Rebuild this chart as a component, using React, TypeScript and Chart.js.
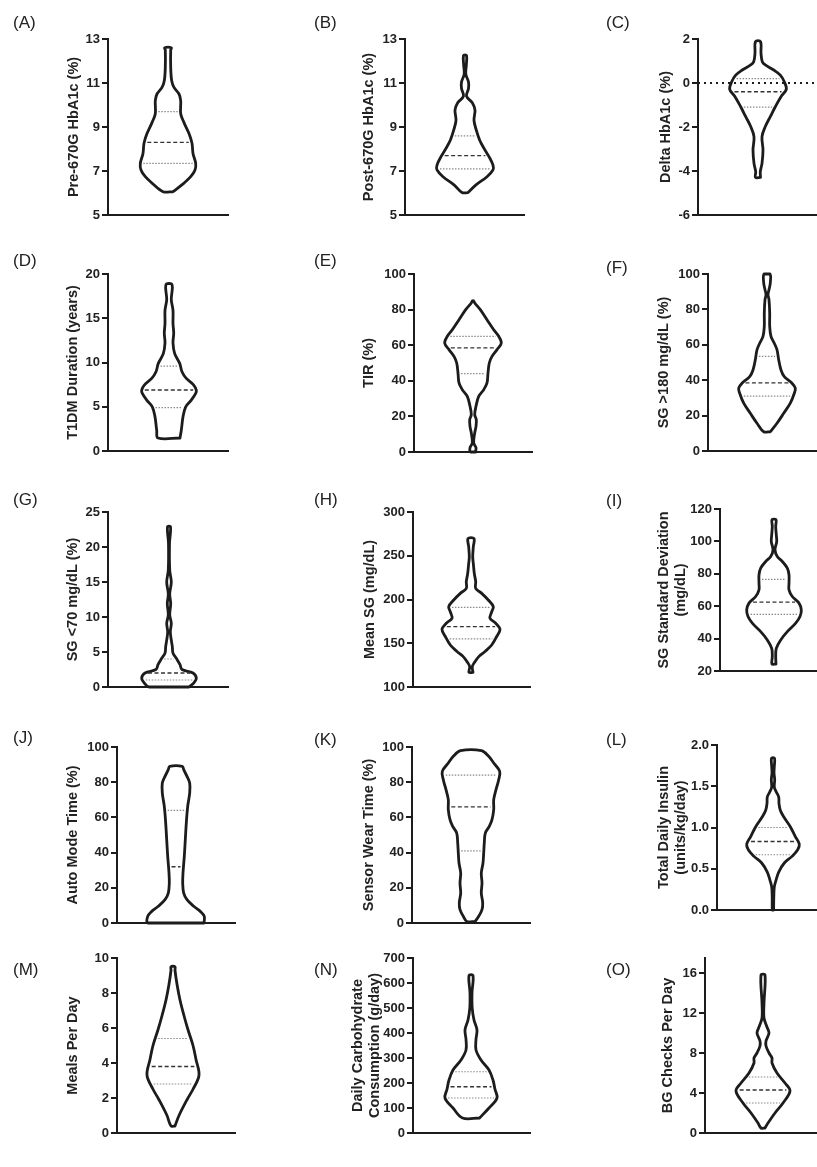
import React, { useEffect, useRef } from 'react';
import { Chart, registerables } from 'chart.js';

Chart.register(...registerables);

const FONT = '"Liberation Sans", Arial, Helvetica, sans-serif';
const INK = '#1c1c1c';

// ---------------- Data (violin outline: value levels and half-widths) ----------------
const A_LEVELS = [6.06, 6.45, 6.74, 7.05, 7.35, 7.8, 8.26, 8.7, 9.2, 9.6, 10.2, 10.5, 10.8, 11.1, 11.7, 12.5, 12.6];
const A_WIDTHS = [5, 16, 22.7, 27, 27.7, 25, 24, 21, 16, 12.7, 12.7, 11, 6, 3.7, 2.7, 2.7, 3.3];
const A_QUART = [7.35, 8.3, 9.7];
const A_TICKS = [5, 7, 9, 11, 13];

const B_LEVELS = [6.02, 6.36, 6.74, 7.05, 7.27, 7.65, 8.03, 8.4, 8.86, 9.3, 9.77, 10.1, 10.4, 10.75, 11.05, 11.4, 11.8, 12.25];
const B_WIDTHS = [3, 10.7, 22, 28, 28, 24, 19, 14.7, 11.3, 9, 10, 7.3, 1.5, 3.5, 3.5, 0.8, 1.3, 1.5];
const B_QUART = [7.1, 7.7, 8.6];
const B_TICKS = [5, 7, 9, 11, 13];

const C_LEVELS = [-4.29, -4.03, -3.65, -3.05, -2.44, -1.98, -1.53, -1.08, -0.62, -0.29, 0.06, 0.36, 0.59, 0.82, 0.97, 1.35, 1.88];
const C_WIDTHS = [2.5, 2.3, 4, 5, 4, 7.3, 12.3, 17.3, 23, 28.3, 26.3, 22.3, 15.7, 7.3, 4.3, 3, 2.5];
const C_QUART = [-1.1, -0.4, 0.2];
const C_TICKS = [-6, -4, -2, 0, 2];

const D_LEVELS = [1.47, 2.34, 3.86, 4.99, 5.75, 6.5, 6.88, 7.45, 8.2, 8.96, 9.9, 11.0, 12.2, 13.3, 14.4, 15.9, 17.1, 18.8];
const D_WIDTHS = [11, 12.3, 14, 16.7, 22.3, 26.7, 27.3, 24.7, 17.3, 13, 10.7, 5.7, 4, 4.7, 4, 4, 2.3, 3];
const D_QUART = [4.9, 6.9, 9.6];
const D_TICKS = [0, 5, 10, 15, 20];

const E_LEVELS = [0, 2.4, 5.1, 10.7, 14.4, 18.2, 21, 25.7, 31.3, 35, 38.8, 44.4, 50, 53.7, 57.5, 61.2, 65, 68.7, 74.3, 80, 83.7, 85];
const E_WIDTHS = [2.5, 3, 0.7, 1.7, 3, 3.3, 1.7, 3, 5.7, 10.7, 14, 15, 16.3, 19, 24, 28.3, 25.7, 20.7, 14, 7.3, 1.7, 0.5];
const E_QUART = [44, 58.5, 65];
const E_TICKS = [0, 20, 40, 60, 80, 100];

const F_LEVELS = [10.9, 15.7, 21.3, 27, 32.6, 35.5, 38.3, 42, 45.8, 51.5, 57.2, 60.9, 64.7, 70.4, 78, 85.5, 88.3, 91.1, 94.9, 100];
const F_WIDTHS = [3.3, 10, 16.7, 23.3, 27.3, 28.3, 25, 17.3, 14, 11.7, 10, 7.3, 4, 2.7, 2.7, 2, 1, 2, 3.3, 3];
const F_QUART = [31, 38.5, 53.5];
const F_TICKS = [0, 20, 40, 60, 80, 100];

const G_LEVELS = [0, 0.57, 1.28, 2, 2.5, 3.2, 4.1, 4.84, 5.8, 6.7, 7.9, 9.1, 10.3, 11.9, 13.3, 15, 16.7, 20.5, 22.9];
const G_WIDTHS = [20, 24.7, 27.3, 24, 13, 11, 7.3, 4, 3.3, 2.3, 1.3, 2.3, 0.7, 1.7, 0.7, 2.3, 0.7, 0.5, 1.5];
const G_QUART = [1.0, 2.0, 4.0];
const G_TICKS = [0, 5, 10, 15, 20, 25];

const H_LEVELS = [116.7, 123.5, 129, 135, 140.6, 148, 157.7, 166, 172.9, 178.6, 186, 191.8, 199.4, 207, 212.7, 220.3, 229.8, 241.2, 248.8, 260.2, 269.6];
const H_WIDTHS = [2, 1.3, 4, 8, 14, 20.7, 25.7, 29, 24.7, 19, 20.7, 22.3, 17.3, 10.7, 4.7, 4.7, 3.3, 2.3, 1.7, 2.3, 3];
const H_QUART = [155, 169, 191];
const H_TICKS = [100, 150, 200, 250, 300];

const I_LEVELS = [24.3, 29, 34, 39.2, 44.3, 49.5, 53.6, 57.7, 61.9, 66, 70.1, 74.2, 79.4, 83.5, 87.6, 90.7, 94.8, 99.9, 104, 109.3, 113.4];
const I_WIDTHS = [2, 1.7, 2.3, 6.7, 13.3, 21.7, 26, 27.3, 25, 18.3, 15, 15, 15, 13.3, 8.3, 3.3, 1, 2.7, 2.3, 1.7, 2];
const I_QUART = [55, 62.5, 76.5];
const I_TICKS = [20, 40, 60, 80, 100, 120];

const J_LEVELS = [0, 3.8, 6.6, 9.5, 13.3, 17, 22.7, 28.4, 37.9, 47.3, 56.8, 66.3, 73.9, 79.5, 83.3, 87.1, 89];
const J_WIDTHS = [28, 28.3, 24.3, 17.7, 11, 7.7, 6.7, 7, 8.3, 9.3, 10.3, 11.7, 13.7, 13.7, 11, 7.7, 6.3];
const J_QUART = [0, 32, 64];
const J_TICKS = [0, 20, 40, 60, 80, 100];

const K_LEVELS = [0.9, 3.8, 7.6, 11.4, 17, 22.7, 28.4, 34.1, 39.8, 45.5, 51.1, 54.9, 58.7, 64.4, 70.1, 75.8, 81.4, 86.2, 90.9, 94.7, 97.9];
const K_WIDTHS = [4.2, 7.7, 11, 11.7, 10.3, 11, 10.3, 12, 12.7, 13.3, 14.3, 18.3, 21, 22.7, 22.7, 25, 27.7, 28.7, 22.7, 17.7, 10.5];
const K_QUART = [41, 66, 84];
const K_TICKS = [0, 20, 40, 60, 80, 100];

const L_LEVELS = [0, 0.16, 0.28, 0.36, 0.46, 0.57, 0.65, 0.73, 0.8, 0.89, 1.01, 1.13, 1.21, 1.29, 1.37, 1.43, 1.49, 1.58, 1.66, 1.74, 1.84];
const L_WIDTHS = [0.6, 0.8, 1.3, 3, 5.7, 11.3, 19, 24.7, 26.3, 22.3, 17.3, 10.7, 7.3, 6, 5.7, 3.3, 1.3, 1.7, 1, 1.3, 1.5];
const L_QUART = [0.67, 0.83, 1.0];
const L_TICKS = [0, 0.5, 1.0, 1.5, 2.0];
const L_TICK_LABELS = ['0.0', '0.5', '1.0', '1.5', '2.0'];

const M_LEVELS = [0.4, 1.0, 1.9, 2.5, 3.3, 4.2, 5.0, 5.9, 6.7, 7.6, 8.5, 9.3, 9.5];
const M_WIDTHS = [2, 6, 14, 20, 26, 23, 20, 15, 11, 7, 4, 2, 2];
const M_QUART = [2.8, 3.8, 5.4];
const M_TICKS = [0, 2, 4, 6, 8, 10];

const N_LEVELS = [60, 100, 140, 175, 212, 252, 292, 332, 375, 412, 452, 500, 560, 630];
const N_WIDTHS = [8.5, 18, 26, 24, 22, 18, 10, 5, 5, 6, 3, 1.2, 1, 2];
const N_QUART = [140, 185, 245];
const N_TICKS = [0, 100, 200, 300, 400, 500, 600, 700];

const O_LEVELS = [0.5, 1, 2, 3, 4.2, 5, 6, 7, 7.5, 8, 8.7, 9.2, 10, 10.6, 11.5, 13, 15.8];
const O_WIDTHS = [2, 5, 12, 20, 27, 22, 14, 9, 9, 6, 3, 3, 6, 4, 1, 1, 2];
const O_QUART = [3.0, 4.3, 5.6];
const O_TICKS = [0, 4, 8, 12, 16];

// ---------------- Panel definitions ----------------
type Geo = { col: number; axisX: number; titleX: number; top: number; bottom: number; right: number; center: number; lx: number; ly: number };
type PanelDef = {
  tag: string; title: string | string[]; levels: number[]; widths: number[]; quart: number[];
  ticks: number[]; tickLabels?: string[]; min: number; max: number; zeroLine?: boolean; geo: Geo;
};

const COLS = [0, 272, 544];
const COLW = [272, 272, 273];

const PANELS: PanelDef[] = [
  { tag: '(A)', title: 'Pre-670G HbA1c (%)', levels: A_LEVELS, widths: A_WIDTHS, quart: A_QUART, ticks: A_TICKS, min: 5, max: 13,
    geo: { col: 0, axisX: 108, titleX: 74, top: 39, bottom: 215, right: 228, center: 168, lx: 13, ly: 13 } },
  { tag: '(B)', title: 'Post-670G HbA1c (%)', levels: B_LEVELS, widths: B_WIDTHS, quart: B_QUART, ticks: B_TICKS, min: 5, max: 13,
    geo: { col: 1, axisX: 405, titleX: 369, top: 39, bottom: 215, right: 524, center: 465, lx: 314, ly: 13 } },
  { tag: '(C)', title: 'Delta HbA1c (%)', levels: C_LEVELS, widths: C_WIDTHS, quart: C_QUART, ticks: C_TICKS, min: -6, max: 2, zeroLine: true,
    geo: { col: 2, axisX: 698, titleX: 666, top: 39, bottom: 215, right: 817, center: 758, lx: 606, ly: 13 } },
  { tag: '(D)', title: 'T1DM Duration (years)', levels: D_LEVELS, widths: D_WIDTHS, quart: D_QUART, ticks: D_TICKS, min: 0, max: 20,
    geo: { col: 0, axisX: 108, titleX: 73, top: 274, bottom: 451, right: 228, center: 169, lx: 13, ly: 251 } },
  { tag: '(E)', title: 'TIR (%)', levels: E_LEVELS, widths: E_WIDTHS, quart: E_QUART, ticks: E_TICKS, min: 0, max: 100,
    geo: { col: 1, axisX: 414, titleX: 369, top: 274, bottom: 452, right: 532, center: 473, lx: 314, ly: 251 } },
  { tag: '(F)', title: 'SG >180 mg/dL (%)', levels: F_LEVELS, widths: F_WIDTHS, quart: F_QUART, ticks: F_TICKS, min: 0, max: 100,
    geo: { col: 2, axisX: 708, titleX: 664, top: 274, bottom: 451, right: 817, center: 767, lx: 606, ly: 258 } },
  { tag: '(G)', title: 'SG <70 mg/dL (%)', levels: G_LEVELS, widths: G_WIDTHS, quart: G_QUART, ticks: G_TICKS, min: 0, max: 25,
    geo: { col: 0, axisX: 108, titleX: 73, top: 512, bottom: 687, right: 228, center: 169, lx: 13, ly: 490 } },
  { tag: '(H)', title: 'Mean SG (mg/dL)', levels: H_LEVELS, widths: H_WIDTHS, quart: H_QUART, ticks: H_TICKS, min: 100, max: 300,
    geo: { col: 1, axisX: 413, titleX: 370, top: 512, bottom: 687, right: 530, center: 471, lx: 314, ly: 490 } },
  { tag: '(I)', title: ['SG Standard Deviation', '(mg/dL)'], levels: I_LEVELS, widths: I_WIDTHS, quart: I_QUART, ticks: I_TICKS, min: 20, max: 120,
    geo: { col: 2, axisX: 720, titleX: 664, top: 509, bottom: 671, right: 817, center: 774, lx: 606, ly: 491 } },
  { tag: '(J)', title: 'Auto Mode Time (%)', levels: J_LEVELS, widths: J_WIDTHS, quart: J_QUART, ticks: J_TICKS, min: 0, max: 100,
    geo: { col: 0, axisX: 117, titleX: 73, top: 747, bottom: 923, right: 235, center: 176, lx: 13, ly: 728 } },
  { tag: '(K)', title: 'Sensor Wear Time (%)', levels: K_LEVELS, widths: K_WIDTHS, quart: K_QUART, ticks: K_TICKS, min: 0, max: 100,
    geo: { col: 1, axisX: 412, titleX: 369, top: 747, bottom: 923, right: 530, center: 471, lx: 314, ly: 730 } },
  { tag: '(L)', title: ['Total Daily Insulin', '(units/kg/day)'], levels: L_LEVELS, widths: L_WIDTHS, quart: L_QUART, ticks: L_TICKS, tickLabels: L_TICK_LABELS, min: 0, max: 2,
    geo: { col: 2, axisX: 717, titleX: 664, top: 745, bottom: 910, right: 817, center: 773, lx: 606, ly: 730 } },
  { tag: '(M)', title: 'Meals Per Day', levels: M_LEVELS, widths: M_WIDTHS, quart: M_QUART, ticks: M_TICKS, min: 0, max: 10,
    geo: { col: 0, axisX: 117, titleX: 73, top: 958, bottom: 1133, right: 235, center: 173, lx: 13, ly: 960 } },
  { tag: '(N)', title: ['Daily Carbohydrate', 'Consumption (g/day)'], levels: N_LEVELS, widths: N_WIDTHS, quart: N_QUART, ticks: N_TICKS, min: 0, max: 700,
    geo: { col: 1, axisX: 413, titleX: 358, top: 958, bottom: 1133, right: 530, center: 471, lx: 314, ly: 960 } },
  { tag: '(O)', title: 'BG Checks Per Day', levels: O_LEVELS, widths: O_WIDTHS, quart: O_QUART, ticks: O_TICKS, min: 0, max: 17.5,
    geo: { col: 2, axisX: 705, titleX: 668, top: 958, bottom: 1133, right: 817, center: 763, lx: 606, ly: 960 } },
];

const TITLE_SIZE = 14.5;
const TITLE_LH = 1.17;
const TICK_SIZE = 13;

function widthAt(levels: number[], widths: number[], v: number): number {
  if (v <= levels[0]) return widths[0];
  for (let i = 1; i < levels.length; i++) {
    if (v <= levels[i]) {
      const t = (v - levels[i - 1]) / (levels[i] - levels[i - 1]);
      return widths[i - 1] + t * (widths[i] - widths[i - 1]);
    }
  }
  return widths[widths.length - 1];
}

function Panel({ p }: { p: PanelDef }) {
  const ref = useRef<HTMLCanvasElement>(null);
  const g = p.geo;
  const cLeft = COLS[g.col];
  const cW = COLW[g.col];
  const cTop = g.top - 16;
  const cH = g.bottom + 14 - cTop;

  useEffect(() => {
    if (!ref.current) return;
    const lineH = TITLE_SIZE * TITLE_LH;
    const padLeft = g.titleX - cLeft - lineH / 2;
    const yWidth = g.axisX - cLeft - padLeft;
    const xMin = g.axisX - g.center;
    const xMax = g.right - g.center;

    const outline: { x: number; y: number }[] = [];
    for (let i = 0; i < p.levels.length; i++) outline.push({ x: p.widths[i], y: p.levels[i] });
    for (let i = p.levels.length - 1; i >= 0; i--) outline.push({ x: -p.widths[i], y: p.levels[i] });
    outline.push({ x: p.widths[0], y: p.levels[0] });

    const datasets: any[] = [];
    if (p.zeroLine) {
      datasets.push({
        data: [{ x: xMin, y: 0 }, { x: xMax, y: 0 }], showLine: true, pointRadius: 0,
        borderColor: INK, borderWidth: 2, borderDash: [2, 4], tension: 0, clip: false,
      });
    }
    p.quart.forEach((q, i) => {
      const hw = widthAt(p.levels, p.widths, q) - 3;
      if (hw < 1 || q <= p.min) return;
      const isMed = i === 1;
      datasets.push({
        data: [{ x: -hw, y: q }, { x: hw, y: q }], showLine: true, pointRadius: 0,
        borderColor: isMed ? '#333' : '#8a8a8a', borderWidth: isMed ? 1.4 : 1.2,
        borderDash: isMed ? [4, 2.5] : [1.5, 1.5], tension: 0, clip: false,
      });
    });
    datasets.push({
      data: outline, showLine: true, pointRadius: 0, borderColor: INK, borderWidth: 2.8,
      tension: 0.35, fill: false, clip: false, borderJoinStyle: 'round', borderCapStyle: 'round',
    });

    const labels = p.tickLabels;
    const chart = new Chart(ref.current, {
      type: 'scatter',
      data: { datasets },
      options: {
        animation: false,
        responsive: false,
        maintainAspectRatio: false,
        events: [],
        layout: { padding: { left: padLeft, right: cLeft + cW - g.right, top: g.top - cTop, bottom: cTop + cH - g.bottom } },
        plugins: { legend: { display: false }, tooltip: { enabled: false }, title: { display: false } },
        scales: {
          x: {
            type: 'linear', min: xMin, max: xMax, z: 1,
            ticks: { display: false },
            grid: { display: true, drawOnChartArea: false, drawTicks: false, lineWidth: 2, color: INK },
            border: { display: true, width: 2, color: INK },
            afterFit: (s: any) => { s.height = 0; },
          },
          y: {
            type: 'linear', min: p.min, max: p.max, z: 1,
            afterBuildTicks: (s: any) => { s.ticks = p.ticks.map((v) => ({ value: v })); },
            afterFit: (s: any) => { s.width = yWidth; },
            ticks: {
              autoSkip: false, padding: 2, color: '#222',
              font: { family: FONT, size: TICK_SIZE, weight: 'bold' },
              callback: (v: any, idx: number) => (labels ? labels[idx] : String(v)),
            },
            grid: { display: true, drawOnChartArea: false, drawTicks: true, tickLength: 6, lineWidth: 2, color: INK },
            border: { display: true, width: 2, color: INK },
            title: {
              display: true, text: p.title, color: '#222', padding: 0,
              font: { family: FONT, size: TITLE_SIZE, weight: 'bold', lineHeight: TITLE_LH },
            },
          },
        },
      } as any,
    });
    return () => chart.destroy();
  }, []);

  return (
    <canvas
      ref={ref}
      width={cW}
      height={cH}
      style={{ position: 'absolute', left: cLeft, top: cTop, width: cW, height: cH }}
    />
  );
}

export default function App() {
  return (
    <div style={{ position: 'absolute', left: 0, top: 0, width: 817, height: 1167, background: '#fff', overflow: 'hidden' }}>
      {PANELS.map((p) => <Panel key={p.tag} p={p} />)}
      {PANELS.map((p) => (
        <div
          key={'lbl' + p.tag}
          style={{ position: 'absolute', left: p.geo.lx, top: p.geo.ly, font: `17px ${FONT}`, lineHeight: '20px', color: '#222', whiteSpace: 'nowrap' }}
        >
          {p.tag}
        </div>
      ))}
    </div>
  );
}
